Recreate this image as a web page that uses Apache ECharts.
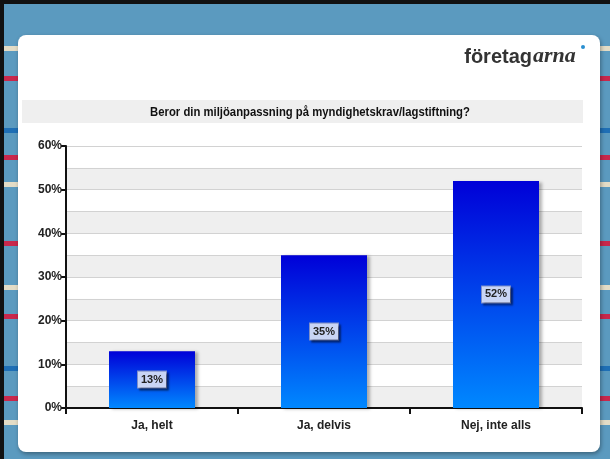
<!DOCTYPE html>
<html>
<head>
<meta charset="utf-8">
<script src="https://cdn.jsdelivr.net/npm/echarts@6/dist/echarts.min.js"></script>
<style>
html, body { margin: 0; padding: 0; background: #5b9abf; }
#main { width: 610px; height: 459px; }
</style>
</head>
<body>
<div id="main"></div>
<script>
// data
var categories = ['Ja, helt', 'Ja, delvis', 'Nej, inte alls'];
var values = [13, 35, 52];
var title = 'Beror din miljöanpassning på myndighetskrav/lagstiftning?';

// decorative stripes behind the white card (y, color)
var stripes = [
    [46, '#e3dcc6'], [76, '#c8284c'], [128, '#1f6fb5'], [155, '#c8284c'],
    [182, '#e3dcc6'], [241, '#c8284c'], [285, '#e3dcc6'], [314, '#c8284c'],
    [366, '#1f6fb5'], [396, '#c8284c'], [420, '#e3dcc6']
];

var font = '"Liberation Sans", Arial, sans-serif';

var myChart = echarts.init(document.getElementById('main'));

var graphics = [];
// left / right stripe columns
stripes.forEach(function (s) {
    graphics.push({ type: 'rect', z: -10, shape: { x: 4, y: s[0], width: 16, height: 5 }, style: { fill: s[1] } });
    graphics.push({ type: 'rect', z: -10, shape: { x: 598, y: s[0], width: 12, height: 5 }, style: { fill: s[1] } });
});
graphics.push({ type: 'rect', z: -9, shape: { x: 0, y: 0, width: 610, height: 4 }, style: { fill: '#111' } });
graphics.push({ type: 'rect', z: -9, shape: { x: 0, y: 0, width: 4, height: 459 }, style: { fill: '#111' } });
// card
graphics.push({
    type: 'rect', z: -8,
    shape: { x: 18, y: 35, width: 582, height: 417, r: 8 },
    style: { fill: '#fff', shadowBlur: 4, shadowColor: 'rgba(0,0,0,0.35)', shadowOffsetX: 1, shadowOffsetY: 2 }
});
// title bar
graphics.push({ type: 'rect', z: -7, shape: { x: 22, y: 100, width: 561, height: 23 }, style: { fill: '#efefef' } });
graphics.push({
    type: 'text', z: 5, x: 310, y: 112, scaleX: 0.87,
    style: { text: title, font: 'bold 13px ' + font, fill: '#111', align: 'center', verticalAlign: 'middle' }
});
// logo
graphics.push({
    type: 'text', z: 5, x: 532, y: 67,
    style: { text: 'företag', font: 'bold 20px ' + font, fill: '#333', align: 'right', verticalAlign: 'bottom' }
});
graphics.push({
    type: 'text', z: 5, x: 533, y: 67,
    style: { text: 'arna', font: 'italic bold 22px "Liberation Serif", serif', fill: '#333', align: 'left', verticalAlign: 'bottom' }
});
graphics.push({ type: 'circle', z: 5, shape: { cx: 583, cy: 47, r: 2 }, style: { fill: '#2a8fd0' } });

var option = {
    animation: false,
    graphic: graphics,
    grid: { left: 66, right: 28, top: 146, bottom: 51 },
    xAxis: {
        type: 'category',
        data: categories,
        axisLine: { lineStyle: { color: '#111', width: 2 } },
        axisTick: { show: true, length: 6, lineStyle: { color: '#111', width: 2 } },
        axisLabel: { margin: 12, color: '#222', fontWeight: 'bold', fontSize: 12, fontFamily: font }
    },
    yAxis: [{
        type: 'value', min: 0, max: 60, interval: 5, position: 'left',
        axisLine: { show: false }, axisTick: { show: false }, axisLabel: { show: false },
        splitLine: { lineStyle: { color: '#d2d2d2', width: 1 } },
        splitArea: { show: true, areaStyle: { color: ['#efefef', '#ffffff'] } }
    }, {
        type: 'value', min: 0, max: 60, interval: 10, position: 'left',
        axisLine: { show: true, lineStyle: { color: '#111', width: 2 } },
        axisTick: { show: true, length: 5, lineStyle: { color: '#111', width: 2 } },
        axisLabel: { formatter: '{value}%', margin: 4, color: '#222', fontWeight: 'bold', fontSize: 12, fontFamily: font },
        splitLine: { show: false }
    }],
    series: [{
        type: 'bar',
        yAxisIndex: 0,
        data: values,
        barWidth: '50%',
        itemStyle: {
            color: new echarts.graphic.LinearGradient(0, 0, 0, 1, [
                { offset: 0, color: '#0000d8' },
                { offset: 1, color: '#0088ff' }
            ]),
            shadowColor: 'rgba(0,0,0,0.3)', shadowBlur: 3, shadowOffsetX: 3, shadowOffsetY: 1
        },
        label: {
            show: true, position: 'inside', formatter: '{c}%',
            color: '#222', fontWeight: 'bold', fontSize: 11, fontFamily: font,
            backgroundColor: '#c9d5f5', borderColor: '#7f8fc8', borderWidth: 1,
            padding: [3, 3, 2, 3],
            shadowColor: 'rgba(0,0,0,0.4)', shadowBlur: 2, shadowOffsetX: 2, shadowOffsetY: 2
        }
    }]
};
myChart.setOption(option);
</script>
</body>
</html>
